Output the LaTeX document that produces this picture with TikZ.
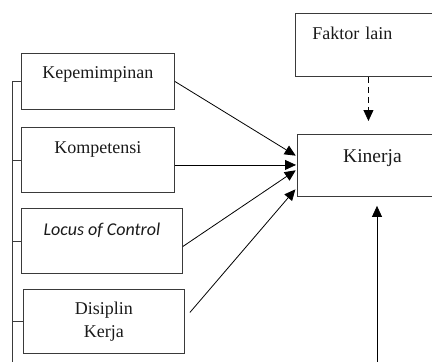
\documentclass[tikz,border=0pt]{standalone}
\usepackage{fontspec}
\setmainfont{Liberation Serif}
\newfontfamily\sansit{Carlito}
\usepackage{xcolor}
\usetikzlibrary{arrows.meta,positioning}
\definecolor{garis}{HTML}{3A3A3A}
\definecolor{tinta}{HTML}{1A1A1A}

\begin{document}
\begin{tikzpicture}[
  x=1pt, y=-1pt,
  font=\fontsize{18}{22.5}\selectfont,
  kotak/.style={draw=garis, line width=0.9pt, anchor=north west, align=center, text=tinta},
  ataskiri/.style={text height=12pt, text depth=#1},
  arr/.style={-{Triangle[length=11pt,width=10pt]}, color=black, line width=0.8pt},
  putus/.style={dash pattern=on 6pt off 4pt}
]
\useasboundingbox (0,0) rectangle (432,362);
\clip (0,0) rectangle (432,362);

\node[kotak, minimum width=153pt, minimum height=56pt, inner ysep=13pt, ataskiri=18pt] (kep) at (21,53) {Kepemimpinan};
\node[kotak, minimum width=153pt, minimum height=65pt, inner ysep=14pt, ataskiri=25pt] (kom) at (21,127) {Kompetensi};
\node[kotak, minimum width=161pt, minimum height=65pt, inner ysep=15pt, ataskiri=23pt] (loc) at (21,208) {\sansit\itshape Locus of Control};
\node[kotak, minimum width=161pt, minimum height=64pt, yshift=-2pt] (dis) at (23,287) {Disiplin\\Kerja};
\node[kotak, align=left, text width=112pt, inner xsep=17pt, minimum height=63pt, inner ysep=14pt, ataskiri=23pt] (fak) at (295,13) {Faktor lain};
\node[kotak, minimum width=150pt, minimum height=62pt, inner ysep=16pt, ataskiri=18pt, font=\fontsize{19.5}{23}\selectfont] (kin) at (297,134) {Kinerja};

\coordinate (rel) at (12,366);
\coordinate (pangkal) at (377,366);

\draw[garis, line width=0.8pt] (kep.west -| rel) -- (rel);
\foreach \n in {kep,kom,loc,dis}
  \draw[garis, line width=0.8pt] (\n.west) -- (\n.west -| rel);

\draw[arr, shorten >=1.5pt] (kep.east) -- ([yshift=9pt]kin.west);
\draw[arr, shorten >=1pt] ([yshift=-5pt]kom.east) -- ([yshift=-5pt]kom.east -| kin.west);
\draw[arr, shorten >=1.5pt] ([yshift=-5.5pt]loc.east) -- ([yshift=-4pt]kin.west);
\draw[arr, shorten >=2.5pt] ([xshift=5pt,yshift=9pt]dis.east) -- ([yshift=-22pt]kin.west);
\draw[arr, putus, shorten >=13pt] (fak.south) -- (fak.south |- kin.north);
\draw[arr, shorten >=9pt] (pangkal) -- (pangkal |- kin.south);
\end{tikzpicture}
\end{document}
